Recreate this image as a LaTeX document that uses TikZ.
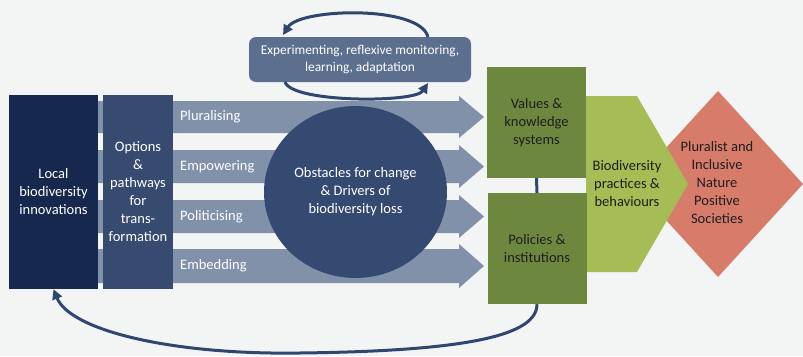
\documentclass[tikz,border=0pt]{standalone}
\usepackage{fontspec}
\setmainfont{Carlito}
\usetikzlibrary{arrows.meta,shapes.geometric}
\definecolor{bg}{HTML}{F3F5F5}
\definecolor{navy}{HTML}{16284D}
\definecolor{optblue}{HTML}{374B70}
\definecolor{bandc}{HTML}{8191A9}
\definecolor{circc}{HTML}{354A70}
\definecolor{expc}{HTML}{5C6F8E}
\definecolor{olive}{HTML}{6E873F}
\definecolor{lime}{HTML}{A6BD56}
\definecolor{salmon}{HTML}{D77C6B}
\definecolor{loopc}{HTML}{2F4670}
\definecolor{darktext}{HTML}{1E1E1E}
\tikzset{
  mainfont/.style={font=\fontsize{14.5}{18}\selectfont},
  darkbox/.style={mainfont, text=white, align=center, inner sep=0pt},
  greenbox/.style={mainfont, fill=olive, text=darktext, align=center, inner sep=0pt,
    minimum width=99pt, minimum height=111pt},
  lighttext/.style={mainfont, text=darktext, align=center, inner sep=0pt},
  bandlabel/.style={mainfont, text=white, anchor=west, inner sep=0pt},
  loopline/.style={draw=loopc, line width=3pt, -{Triangle[length=10pt,width=10pt]}},
  linkline/.style={draw=loopc, line width=3pt}
}
\newcommand\bandarrow[2]{%
  \fill[bandc] (98,#1) -- (459,#1) -- (459,#1-5) -- (484,{(#1+#2)/2})
    -- (459,#2+5) -- (459,#2) -- (98,#2) -- cycle;}
\begin{document}
\begin{tikzpicture}[x=1pt,y=-1pt]
\fill[bg] (0,0) rectangle (803,356);
\useasboundingbox (0,0) rectangle (803,356);

% bands
\bandarrow{101}{133}
\bandarrow{150}{183}
\bandarrow{200}{233}
\bandarrow{249}{283}
\node[bandlabel] (plur) at (180,117) {Pluralising};
\node[bandlabel] (empo) at (180,166.5) {Empowering};
\node[bandlabel] (poli) at (180,216.5) {Politicising};
\node[bandlabel] (embe) at (180,266) {Embedding};

% left boxes
\node[darkbox, fill=navy, minimum width=89pt, minimum height=194pt] (local) at (53.5,192)
  {Local\\biodiversity\\innovations};
\node[darkbox, fill=optblue, minimum width=70pt, minimum height=194pt] (opt) at (138,192)
  {Options\\\&\\pathways\\for\\trans-\\formation};

% obstacles circle
\node[darkbox, ellipse, fill=circc, minimum width=183pt, minimum height=172pt] (obst) at (355.5,192)
  {Obstacles for change\\\& Drivers of\\biodiversity loss};

% experimenting box
\node[darkbox, fill=expc, rounded corners=7pt, minimum width=222pt, minimum height=45pt,
  font=\fontsize{13.4}{16.7}\selectfont] (exp) at (360,59.5)
  {Experimenting, reflexive monitoring,\\learning, adaptation};
\coordinate (exptr) at (428,37);
\coordinate (exptl) at (283,35);
\coordinate (expbl) at (285,82);
\coordinate (expbr) at (428,83);
\draw[loopline] (exptr) .. controls (420,5) and (300,8) .. (exptl);
\draw[loopline] (expbl) .. controls (292,103) and (415,103) .. (expbr);

% diamond
\fill[salmon] (718,91) -- (803,184) -- (718,277) -- (633,184) -- cycle;
\node[lighttext] (soc) at (717,183) {Pluralist and\\Inclusive\\Nature\\Positive\\Societies};

% practices
\fill[lime] (586,96) -- (637,96) -- (688,184) -- (637,272) -- (586,272) -- cycle;
\node[lighttext] (prac) at (627,184) {Biodiversity\\practices \&\\behaviours};

% green boxes
\node[greenbox] (values) at (536.5,122.5) {Values \&\\knowledge\\systems};
\node[greenbox] (policies) at (537,248.5) {Policies \&\\institutions};
\draw[linkline] (values.south) -- (policies.north);

% feedback curve
\draw[loopline] (policies.south) .. controls (537,335) and (470,351) .. (300,353)
  .. controls (170,355) and (70,330) .. (local.south);
\end{tikzpicture}
\end{document}
